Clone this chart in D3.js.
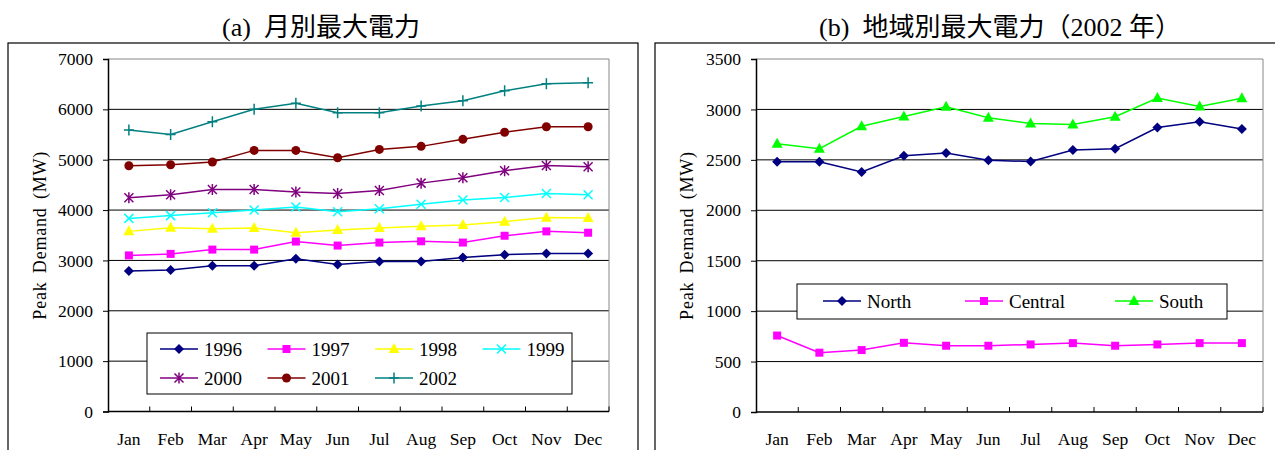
<!DOCTYPE html>
<html>
<head>
<meta charset="utf-8">
<script src="https://cdn.jsdelivr.net/npm/d3@7"></script>
<style>
  body { margin: 0; background: #fff; }
  svg text { font-family: "Liberation Serif", "Times New Roman", "Noto Sans CJK JP", serif; fill: #000; }
</style>
</head>
<body>
<svg id="chart" width="1275" height="450"></svg>
<script>
// data
const months = ["Jan","Feb","Mar","Apr","May","Jun","Jul","Aug","Sep","Oct","Nov","Dec"]

const years = ["1996","1997","1998","1999","2000","2001","2002"]
const y1996 = [2790,2810,2895,2895,3035,2920,2980,2980,3060,3115,3140,3140]
const y1997 = [3100,3130,3215,3215,3375,3295,3355,3380,3355,3490,3577,3550]
const y1998 = [3577,3650,3630,3645,3550,3605,3645,3680,3705,3770,3850,3845]
const y1999 = [3835,3890,3945,4000,4060,3965,4025,4115,4200,4250,4330,4305]
const y2000 = [4245,4305,4410,4410,4360,4330,4390,4535,4640,4780,4885,4860]
const y2001 = [4880,4900,4955,5185,5185,5040,5205,5265,5405,5545,5655,5655]
const y2002 = [5590,5500,5755,6000,6120,5935,5935,6065,6170,6370,6510,6530]

const regions = ["North","Central","South"]
const north   = [2480,2480,2380,2540,2567,2497,2483,2597,2610,2820,2877,2807]
const central = [758,588,614,686,657,657,670,683,657,670,683,683]
const south   = [2660,2610,2833,2930,3027,2917,2860,2850,2927,3113,3030,3110]

const leftTicks = [0,1000,2000,3000,4000,5000,6000,7000]
const rightTicks = [0,500,1000,1500,2000,2500,3000,3500]

const svg = d3.select("#chart")

// marker shapes
function drawMarker(g, shape, color, x, y) {
  if (shape == "diamond") {
    g.append("path").attr("d", `M${x},${y-5}L${x+5},${y}L${x},${y+5}L${x-5},${y}Z`).attr("fill", color)
  } else if (shape == "square") {
    g.append("rect").attr("x", x-4).attr("y", y-4).attr("width", 8).attr("height", 8).attr("fill", color)
  } else if (shape == "triangle") {
    g.append("path").attr("d", `M${x},${y-6}L${x+5.5},${y+4}L${x-5.5},${y+4}Z`).attr("fill", color)
  } else if (shape == "cross") {
    g.append("path").attr("d", `M${x-4.5},${y-4.5}L${x+4.5},${y+4.5}M${x-4.5},${y+4.5}L${x+4.5},${y-4.5}`)
      .attr("stroke", color).attr("stroke-width", 1.5)
  } else if (shape == "star") {
    g.append("path").attr("d", `M${x-4.5},${y-4.5}L${x+4.5},${y+4.5}M${x-4.5},${y+4.5}L${x+4.5},${y-4.5}M${x},${y-5.5}L${x},${y+5.5}`)
      .attr("stroke", color).attr("stroke-width", 1.5)
  } else if (shape == "circle") {
    g.append("circle").attr("cx", x).attr("cy", y).attr("r", 4.5).attr("fill", color)
  } else if (shape == "plus") {
    g.append("path").attr("d", `M${x-5},${y}L${x+5},${y}M${x},${y-5.5}L${x},${y+5.5}`)
      .attr("stroke", color).attr("stroke-width", 1.5)
  }
}

function drawPanel(cfg) {
  const g = svg.append("g")

  // outer frame and title
  g.append("rect").attr("x", cfg.frame[0]).attr("y", 43).attr("width", cfg.frame[1] - cfg.frame[0]).attr("height", 420)
    .attr("fill", "none").attr("stroke", "#000").attr("stroke-width", 1.2)
  g.append("text").attr("x", cfg.titleX).attr("y", 36).attr("text-anchor", "middle")
    .style("font-size", "26px").style("white-space", "pre").text(cfg.title)

  const x = d3.scaleBand().domain(months).range([cfg.left, cfg.right]).padding(0)
  const y = d3.scaleLinear().domain([0, cfg.max]).range([cfg.bottom, 59])

  // gridlines
  g.selectAll(".grid").data(cfg.ticks.filter(t => t > 0 && t < cfg.max)).join("line")
    .attr("x1", cfg.left).attr("x2", cfg.right)
    .attr("y1", d => y(d)).attr("y2", d => y(d))
    .attr("stroke", "#000").attr("stroke-width", 1)

  // plot border (top & right)
  g.append("path").attr("d", `M${cfg.left},${y(cfg.max)}H${cfg.right}V${cfg.bottom}`)
    .attr("fill", "none").attr("stroke", "#888").attr("stroke-width", 1)

  // y axis
  const yAxis = g.append("g").attr("transform", `translate(${cfg.left},0)`)
    .call(d3.axisLeft(y).tickValues(cfg.ticks).tickSize(5).tickPadding(10).tickFormat(d3.format("d")))
  yAxis.select(".domain").attr("stroke", "#000").attr("stroke-width", 1.5)
  yAxis.selectAll("text").style("font-size", "17.5px")

  // x axis with inside ticks at category boundaries
  const xAxis = g.append("g").attr("transform", `translate(0,${cfg.bottom})`)
  xAxis.append("line").attr("x1", cfg.left).attr("x2", cfg.right).attr("y1", 0).attr("y2", 0)
    .attr("stroke", "#000").attr("stroke-width", 1.5)
  xAxis.selectAll(".tk").data(months.slice(1)).join("line")
    .attr("x1", d => x(d)).attr("x2", d => x(d)).attr("y1", 0).attr("y2", -5)
    .attr("stroke", "#000").attr("stroke-width", 1)
  xAxis.append("line").attr("x1", cfg.right).attr("x2", cfg.right).attr("y1", 0).attr("y2", -5)
    .attr("stroke", "#000")
  xAxis.selectAll(".lbl").data(months).join("text")
    .attr("x", d => x(d) + x.bandwidth() / 2).attr("y", 33)
    .attr("text-anchor", "middle").style("font-size", "17.5px").text(d => d)

  // axis title
  g.append("text").attr("transform", `translate(${cfg.titleYX},${(59 + cfg.bottom) / 2}) rotate(-90)`)
    .attr("text-anchor", "middle").style("font-size", "18px").style("letter-spacing", "0.8px")
    .style("word-spacing", "3px").text("Peak Demand (MW)")

  // legend box
  g.append("rect").attr("x", cfg.legend.x).attr("y", cfg.legend.y)
    .attr("width", cfg.legend.w).attr("height", cfg.legend.h)
    .attr("fill", "#fff").attr("stroke", "#000").attr("stroke-width", 1)

  const line = d3.line().x((d, i) => x(months[i]) + x.bandwidth() / 2).y(d => y(d))

  cfg.series.forEach((s, k) => {
    g.append("path").attr("d", line(s.values)).attr("fill", "none")
      .attr("stroke", s.color).attr("stroke-width", 1.5)
    s.values.forEach((v, i) => drawMarker(g, s.shape, s.color, x(months[i]) + x.bandwidth() / 2, y(v)))

    const lx = cfg.legend.itemX(k), ly = cfg.legend.itemY(k)
    g.append("line").attr("x1", lx).attr("x2", lx + 38).attr("y1", ly).attr("y2", ly)
      .attr("stroke", s.color).attr("stroke-width", 1.5)
    drawMarker(g, s.shape, s.color, lx + 19, ly)
    g.append("text").attr("x", lx + 44).attr("y", ly + 6.5).style("font-size", "19px").text(s.name)
  })
}

drawPanel({
  frame: [8, 638], title: "(a)  月別最大電力", titleX: 321,
  left: 108, right: 609, bottom: 411.5, max: 7000, ticks: leftTicks, titleYX: 46,
  legend: { x: 147, y: 333, w: 425, h: 61,
    itemX: k => 160 + (k % 4) * 107.5, itemY: k => k < 4 ? 349 : 378 },
  series: [
    { name: years[0], values: y1996, color: "#000080", shape: "diamond" },
    { name: years[1], values: y1997, color: "#FF00FF", shape: "square" },
    { name: years[2], values: y1998, color: "#FFFF00", shape: "triangle" },
    { name: years[3], values: y1999, color: "#00FFFF", shape: "cross" },
    { name: years[4], values: y2000, color: "#800080", shape: "star" },
    { name: years[5], values: y2001, color: "#800000", shape: "circle" },
    { name: years[6], values: y2002, color: "#008080", shape: "plus" }
  ]
})

drawPanel({
  frame: [655, 1290], title: "(b)  地域別最大電力（2002 年）", titleX: 1000,
  left: 756, right: 1263, bottom: 412, max: 3500, ticks: rightTicks, titleYX: 693,
  legend: { x: 797, y: 284, w: 430, h: 35,
    itemX: k => [823, 965, 1115][k], itemY: k => 301 },
  series: [
    { name: regions[0], values: north, color: "#000080", shape: "diamond" },
    { name: regions[1], values: central, color: "#FF00FF", shape: "square" },
    { name: regions[2], values: south, color: "#00FF00", shape: "triangle" }
  ]
})
</script>
</body>
</html>
